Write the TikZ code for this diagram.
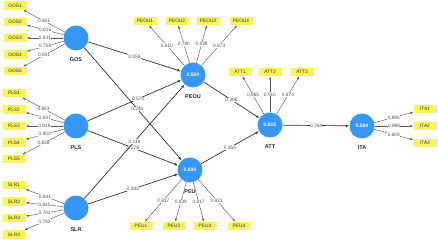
\documentclass[tikz,border=0pt]{standalone}
\usepackage{fontspec}
\setmainfont{Liberation Sans}
\usetikzlibrary{arrows.meta}
\definecolor{lvblue}{HTML}{3797F5}
\definecolor{mvyellow}{HTML}{F7F55A}
\definecolor{pathline}{HTML}{303030}
\definecolor{loadline}{HTML}{585858}
\definecolor{coeftext}{HTML}{505050}

\begin{document}
\begin{tikzpicture}[x=1pt,y=-1pt,
  lv/.style={circle,fill=lvblue,minimum size=25pt,inner sep=0pt,text=white,font=\fontsize{5}{6}\selectfont\bfseries},
  lvname/.style={font=\fontsize{5.5}{6}\selectfont\bfseries,text=black!85,label distance=3pt},
  mv/.style={fill=mvyellow,minimum width=23pt,minimum height=8.5pt,inner sep=0pt,font=\fontsize{4.8}{5}\selectfont,text=black!80},
  path/.style={-{Latex[length=3.5pt,width=2.6pt]},line width=0.7pt,color=pathline},
  load/.style={-{Latex[length=3pt,width=2.2pt]},line width=0.45pt,color=loadline},
  coef/.style={fill=white,inner sep=0.4pt,font=\fontsize{4.8}{5}\selectfont,text=coeftext}]
\useasboundingbox (0,0) rectangle (438,240);

% latent variables
\node[lv,label={[lvname]below:GOS}] (gos) at (76,38) {};
\node[lv,label={[lvname]below:PLS}] (pls) at (76,126) {};
\node[lv,label={[lvname]below:SLR}] (slr) at (76,208) {};
\node[lv,label={[lvname]below:PEOU}] (peou) at (193,75) {0.504};
\node[lv,label={[lvname]below:PEU}] (peu) at (190,170) {0.604};
\node[lv,label={[lvname]below:ATT}] (att) at (270,125) {0.615};
\node[lv,label={[lvname]below:ITA}] (ita) at (362,126) {0.584};

% indicators
\node[mv] (gos1) at (15,5.5) {GOS1};
\node[mv] (gos2) at (15,22) {GOS2};
\node[mv] (gos3) at (15,38) {GOS3};
\node[mv] (gos4) at (15,54.5) {GOS4};
\node[mv] (gos5) at (15,71) {GOS5};
\node[mv] (pls1) at (14,93) {PLS1};
\node[mv] (pls2) at (14,109.5) {PLS2};
\node[mv] (pls3) at (14,126) {PLS3};
\node[mv] (pls4) at (14,142.5) {PLS4};
\node[mv] (pls5) at (14,159) {PLS5};
\node[mv] (slr1) at (14,185) {SLR1};
\node[mv] (slr2) at (14,201.5) {SLR2};
\node[mv] (slr3) at (14,218) {SLR3};
\node[mv] (slr4) at (14,234.5) {SLR4};
\node[mv] (peou1) at (145,21) {PEOU1};
\node[mv] (peou2) at (177,21) {PEOU2};
\node[mv] (peou3) at (208,21) {PEOU3};
\node[mv] (peou4) at (241,21) {PEOU4};
\node[mv] (peu1) at (141,226) {PEU1};
\node[mv] (peu2) at (174,226) {PEU2};
\node[mv] (peu3) at (205,226) {PEU3};
\node[mv] (peu4) at (239,226) {PEU4};
\node[mv] (att1) at (240,72) {ATT1};
\node[mv] (att2) at (270,72) {ATT2};
\node[mv] (att3) at (302,72) {ATT3};
\node[mv] (ita1) at (425,109) {ITA1};
\node[mv] (ita2) at (425,126) {ITA2};
\node[mv] (ita3) at (425,143) {ITA3};

% outer loadings
\draw[load] (gos) -- node[coef] {0.851} (gos1);
\draw[load] (gos) -- node[coef] {0.816} (gos2);
\draw[load] (gos) -- node[coef] {0.841} (gos3);
\draw[load] (gos) -- node[coef] {0.758} (gos4);
\draw[load] (gos) -- node[coef] {0.831} (gos5);
\draw[load] (pls) -- node[coef] {0.853} (pls1);
\draw[load] (pls) -- node[coef] {0.837} (pls2);
\draw[load] (pls) -- node[coef] {0.818} (pls3);
\draw[load] (pls) -- node[coef] {0.853} (pls4);
\draw[load] (pls) -- node[coef] {0.838} (pls5);
\draw[load] (slr) -- node[coef] {0.841} (slr1);
\draw[load] (slr) -- node[coef] {0.840} (slr2);
\draw[load] (slr) -- node[coef] {0.791} (slr3);
\draw[load] (slr) -- node[coef] {0.793} (slr4);
\draw[load] (peou) -- node[coef] {0.810} (peou1);
\draw[load] (peou) -- node[coef] {0.780} (peou2);
\draw[load] (peou) -- node[coef] {0.839} (peou3);
\draw[load] (peou) -- node[coef] {0.873} (peou4);
\draw[load] (peu) -- node[coef] {0.837} (peu1);
\draw[load] (peu) -- node[coef] {0.839} (peu2);
\draw[load] (peu) -- node[coef] {0.817} (peu3);
\draw[load] (peu) -- node[coef] {0.821} (peu4);
\draw[load] (att) -- node[coef] {0.865} (att1);
\draw[load] (att) -- node[coef] {0.910} (att2);
\draw[load] (att) -- node[coef] {0.874} (att3);
\draw[load] (ita) -- node[coef] {0.895} (ita1);
\draw[load] (ita) -- node[coef] {0.896} (ita2);
\draw[load] (ita) -- node[coef] {0.809} (ita3);

% path coefficients
\draw[path] (gos) -- node[coef] {0.059} (peou);
\draw[path] (gos) -- node[coef,pos=0.545] {0.240} (peu);
\draw[path] (pls) -- node[coef,pos=0.54] {0.570} (peou);
\draw[path] (pls) -- node[coef] {0.279} (peu);
\draw[path] (slr) -- node[coef] {0.119} (peou);
\draw[path] (slr) -- node[coef] {0.340} (peu);
\draw[path] (peou) -- node[coef] {0.386} (att);
\draw[path] (peu) -- node[coef] {0.455} (att);
\draw[path] (att) -- node[coef] {0.764} (ita);
\end{tikzpicture}
\end{document}
